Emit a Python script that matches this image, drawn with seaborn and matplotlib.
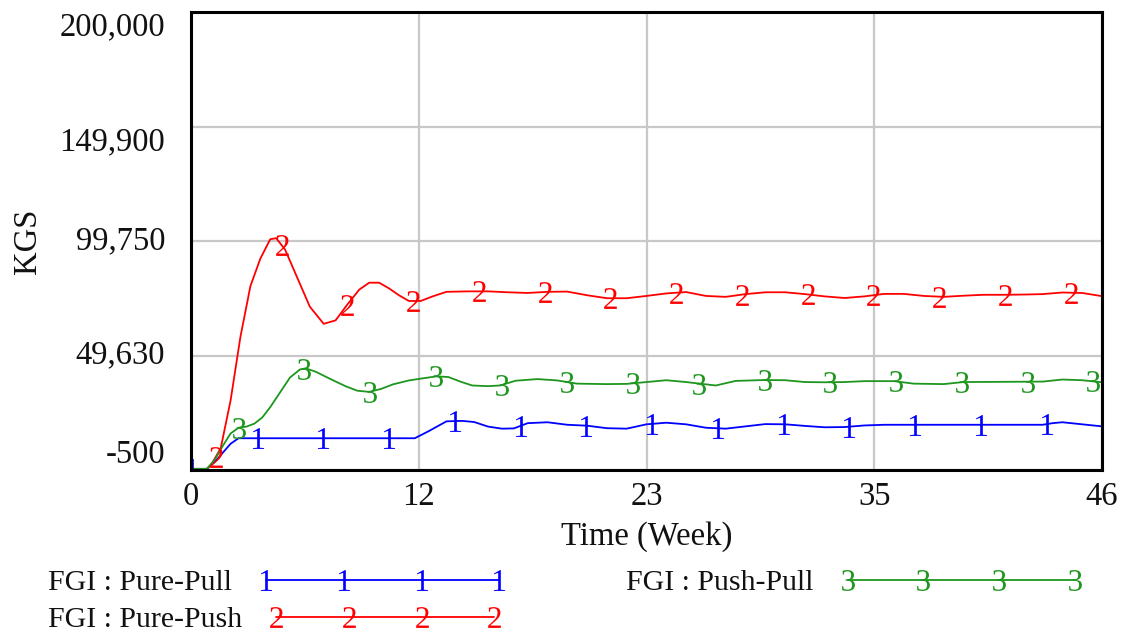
import numpy as np
import pandas as pd
import matplotlib
matplotlib.use("Agg")
import matplotlib.pyplot as plt
from matplotlib.lines import Line2D
import seaborn as sns

# ---- data: finished-goods inventory (KGS) over time (weeks) ----
weeks_pull = [0, 0.8, 1.2, 1.6, 2.0, 2.4, 5, 8, 11.3, 12, 12.9, 13.7, 14.3, 15.0, 15.7,
              16.3, 17.0, 18.0, 19.0, 20.0, 21.0, 22.0, 23.0, 24.0, 25.0, 26.0, 27.0,
              28.0, 29.0, 30.0, 31.0, 32.0, 33.0, 34.0, 35.0, 39.0, 43.0, 43.5, 44.0,
              45.0, 46.0]
fgi_pull = [0, 0, 3000, 7000, 11000, 13400, 13400, 13400, 13400, 16500, 20800, 21000,
            20500, 18500, 17600, 17700, 20000, 20400, 19300, 18900, 17800, 17600, 19500,
            20200, 19500, 18000, 17600, 18600, 19600, 19500, 18800, 18200, 18300, 19000,
            19300, 19300, 19300, 20000, 20400, 19500, 18600]

weeks_push = [0, 0.8, 1.0, 1.5, 2.0, 2.5, 3.0, 3.5, 4.0, 4.3, 4.75, 5.4, 6.0, 6.7, 7.3,
              7.9, 8.5, 9.0, 9.5, 10.0, 10.5, 11.0, 11.6, 12.2, 12.9, 14, 15, 16, 17, 18,
              19, 20, 21, 22, 23, 24, 25, 26, 27, 28, 29, 30, 31, 32, 33, 34, 35, 36, 37,
              38, 39, 40, 41, 42, 43, 44, 45, 46]
fgi_push = [0, 0, 1500, 9000, 30000, 58000, 80000, 92000, 100500, 101000, 96000, 83000,
            71000, 63500, 65000, 72000, 78500, 81500, 81500, 79000, 76000, 73500, 73500,
            75500, 77500, 77700, 77700, 77300, 77000, 77500, 77600, 76000, 74700, 74700,
            75700, 76800, 77400, 75700, 75300, 76500, 77300, 77300, 76500, 75500, 74800,
            75500, 76600, 76600, 75700, 75300, 75800, 76200, 76200, 76300, 76500, 77200,
            77000, 75600]

weeks_pushpull = [0, 0.8, 1.2, 1.6, 2.0, 2.4, 2.8, 3.2, 3.6, 4.0, 4.5, 5.0, 5.5, 5.8, 6.3,
                  7.0, 7.8, 8.4, 9.0, 9.6, 10.2, 11.0, 11.6, 12.4, 13.0, 13.6, 14.2, 15.0,
                  15.6, 16.4, 17.5, 18.5, 19.5, 21, 22, 23, 24, 25, 26, 26.5, 27.5, 29, 30,
                  31, 32, 33, 34, 35.5, 36.5, 38, 39, 41, 43, 44, 45, 46]
fgi_pushpull = [0, 0, 4000, 10000, 15500, 18000, 18500, 19800, 22500, 27000, 33500, 40000,
                43500, 44000, 42500, 39500, 36200, 34200, 33700, 35000, 37000, 38700, 39500,
                40500, 40200, 38200, 36500, 36200, 36500, 38600, 39300, 38700, 37300, 37100,
                37200, 38000, 38800, 38000, 37000, 36500, 38500, 38900, 38800, 38000, 37900,
                38000, 38400, 38400, 37300, 37100, 38000, 38100, 38200, 39100, 38800, 37900]

series_names = ["FGI : Pure-Pull", "FGI : Pure-Push", "FGI : Push-Pull"]
series_tags = ["1", "2", "3"]
series_colors = ["#0000ff", "#ff0000", "#1e961e"]
tag_offsets = [0.05, 1.25, 2.4]   # week of first number tag on each curve
tag_spacing = 3.32                # weeks between number tags

x_ticks = [0, 11.5, 23, 34.5, 46]
x_tick_labels = ["0", "12", "23", "35", "46"]
y_ticks = [-500, 49625, 99750, 149875, 200000]
y_tick_labels = ["-500", "49,630", "99,750", "149,900", "200,000"]

# ---- style ----
sns.set_style("white")
plt.rcParams["font.family"] = ["Liberation Serif", "DejaVu Serif"]
plt.rcParams["mathtext.fontset"] = "custom"
plt.rcParams["mathtext.rm"] = "Liberation Serif"
plt.rcParams["mathtext.it"] = "Liberation Serif"
FS_AX = 23.5
FS_LEG = 21.5
TXT = "#111111"

frames = []
for name, w, v in zip(series_names,
                      [weeks_pull, weeks_push, weeks_pushpull],
                      [fgi_pull, fgi_push, fgi_pushpull]):
    frames.append(pd.DataFrame({"Week": w, "KGS": v, "Series": name}))
df = pd.concat(frames, ignore_index=True)

fig = plt.figure(figsize=(11.21, 6.33), dpi=100)
ax = fig.add_axes([191 / 1121, 1 - 470 / 633, 911 / 1121, 458 / 633])

sns.lineplot(data=df, x="Week", y="KGS", hue="Series", hue_order=series_names,
             palette=series_colors, estimator=None, sort=True, linewidth=1.3,
             legend=False, ax=ax)

# number tags along each curve
for (name, tag, color, off) in zip(series_names, series_tags, series_colors, tag_offsets):
    sub = df[df["Series"] == name]
    tw = np.arange(off, 46.0, tag_spacing)
    tv = np.interp(tw, sub["Week"], sub["KGS"])
    ax.plot(tw, tv, linestyle="none", marker=r"$\mathrm{%s}$" % tag,
            markersize=15, color=color, markeredgewidth=0)

ax.set_xlim(0, 46)
ax.set_ylim(-500, 200000)
ax.set_xticks(x_ticks)
ax.set_xticklabels(x_tick_labels, fontsize=FS_AX)
ax.set_yticks(y_ticks)
ax.set_yticklabels(y_tick_labels, fontsize=FS_AX)
for lbl, va in zip(ax.get_yticklabels(), ["bottom", "center", "center", "top", "top"]):
    lbl.set_va(va)
ax.tick_params(axis="both", length=0, colors=TXT)
ax.tick_params(axis="y", pad=18.5)
ax.tick_params(axis="x", pad=8)

ax.grid(True, color="#c8c8c8", linewidth=1.6)
ax.set_axisbelow(True)
for sp in ax.spines.values():
    sp.set_visible(True)
    sp.set_color("black")
    sp.set_linewidth(2.2)
    sp.set_zorder(5)

ax.set_xlabel("Time (Week)", fontsize=FS_AX, labelpad=7, color=TXT)
ax.set_ylabel("KGS", fontsize=FS_AX, color=TXT)
ax.yaxis.set_label_coords(-0.163, 0.5)

# legend entries: label text first, then a line carrying four number tags
legend_slots = [(48, 583, 8.4), (48, 620, 7.9), (626, 583, 8.2)]
for name, tag, color, (lx, ly, hl) in zip(series_names, series_tags, series_colors,
                                          legend_slots):
    h = Line2D([0], [0], color=color, linewidth=1.3, marker=r"$\mathrm{%s}$" % tag,
               markersize=15, markeredgewidth=0)
    leg = fig.legend([h], [name], loc="center left",
                     bbox_to_anchor=(lx / 1121, 1 - ly / 633), frameon=False,
                     markerfirst=False, numpoints=4, handlelength=hl,
                     handletextpad=0.85, borderpad=0, borderaxespad=0,
                     fontsize=FS_LEG)
    for t in leg.get_texts():
        t.set_color(TXT)

fig.savefig("out.png", dpi=100, facecolor="white")
